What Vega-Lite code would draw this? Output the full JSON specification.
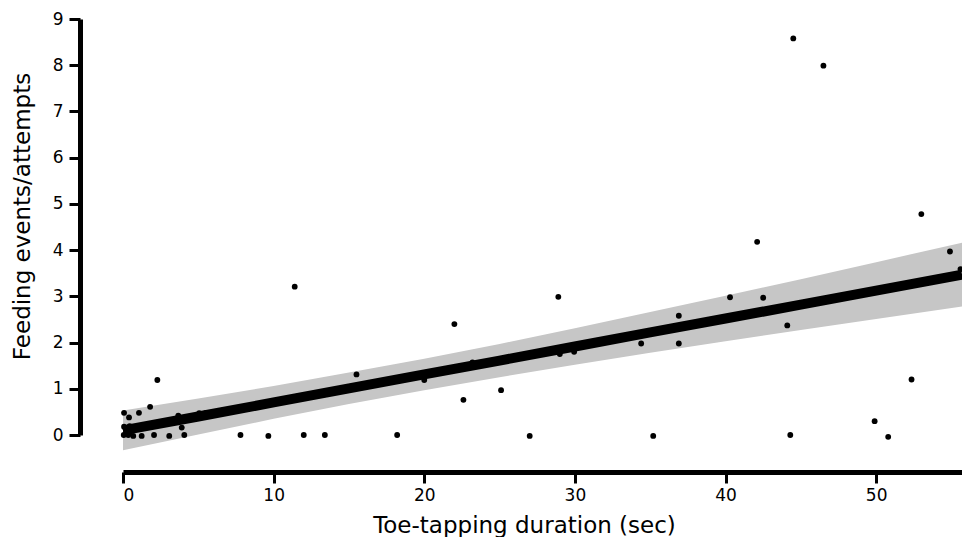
{
  "$schema": "https://vega.github.io/schema/vega-lite/v6.json",
  "width": 839,
  "height": 416,
  "autosize": "none",
  "padding": {"left": 123, "top": 19, "right": 0, "bottom": 102},
  "background": "white",
  "config": {
    "view": {"stroke": null},
    "font": "DejaVu Sans",
    "axis": {
      "grid": false,
      "domainColor": "black",
      "domainWidth": 5,
      "tickColor": "black",
      "tickWidth": 3,
      "tickSize": 11,
      "labelFont": "DejaVu Sans",
      "labelFontSize": 17,
      "labelColor": "black",
      "titleFont": "DejaVu Sans",
      "titleFontSize": 23,
      "titleFontWeight": "normal",
      "titleColor": "black"
    }
  },
  "datasets": {
    "fit": [
      {"x": 0, "fit": 0.10, "lo": -0.33, "hi": 0.53},
      {"x": 5, "fit": 0.40, "lo": 0.013, "hi": 0.79},
      {"x": 10, "fit": 0.705, "lo": 0.35, "hi": 1.06},
      {"x": 15, "fit": 1.01, "lo": 0.67, "hi": 1.35},
      {"x": 20, "fit": 1.31, "lo": 0.97, "hi": 1.65},
      {"x": 25, "fit": 1.61, "lo": 1.25, "hi": 1.97},
      {"x": 30, "fit": 1.915, "lo": 1.52, "hi": 2.31},
      {"x": 35, "fit": 2.22, "lo": 1.78, "hi": 2.66},
      {"x": 40, "fit": 2.52, "lo": 2.03, "hi": 3.01},
      {"x": 45, "fit": 2.82, "lo": 2.27, "hi": 3.37},
      {"x": 50, "fit": 3.125, "lo": 2.51, "hi": 3.74},
      {"x": 55.7, "fit": 3.47, "lo": 2.78, "hi": 4.16}
    ],
    "points": [
      {"x": 0.07, "y": 0.48}, {"x": 0.4, "y": 0.38}, {"x": 1.06, "y": 0.48}, {"x": 1.8, "y": 0.61},
      {"x": 2.28, "y": 1.19}, {"x": 0.07, "y": 0.18}, {"x": 0.44, "y": 0.19}, {"x": 0.05, "y": 0},
      {"x": 0.35, "y": 0}, {"x": 0.68, "y": -0.02}, {"x": 1.24, "y": -0.02}, {"x": 2.06, "y": 0},
      {"x": 3.07, "y": -0.02}, {"x": 3.67, "y": 0.42}, {"x": 3.9, "y": 0.16}, {"x": 4.07, "y": 0},
      {"x": 5.06, "y": 0.47}, {"x": 5.5, "y": 0.48}, {"x": 0.2, "y": 0.1}, {"x": 0.5, "y": 0.08},
      {"x": 3.8, "y": 0.3},
      {"x": 7.8, "y": 0}, {"x": 9.65, "y": -0.02}, {"x": 11.4, "y": 3.21}, {"x": 12.0, "y": 0},
      {"x": 13.4, "y": 0}, {"x": 15.5, "y": 1.31}, {"x": 18.2, "y": 0}, {"x": 20.0, "y": 1.19},
      {"x": 22.0, "y": 2.4}, {"x": 22.6, "y": 0.76}, {"x": 23.2, "y": 1.57}, {"x": 25.1, "y": 0.97},
      {"x": 27.0, "y": -0.02}, {"x": 28.9, "y": 2.99}, {"x": 29.0, "y": 1.75}, {"x": 29.95, "y": 1.8},
      {"x": 34.4, "y": 1.98}, {"x": 35.2, "y": -0.02}, {"x": 36.9, "y": 2.58}, {"x": 36.9, "y": 1.98},
      {"x": 40.3, "y": 2.98}, {"x": 42.1, "y": 4.18}, {"x": 42.5, "y": 2.97}, {"x": 44.1, "y": 2.37},
      {"x": 44.3, "y": 0}, {"x": 44.5, "y": 8.58}, {"x": 46.5, "y": 7.99}, {"x": 49.9, "y": 0.3},
      {"x": 50.8, "y": -0.04}, {"x": 52.35, "y": 1.2}, {"x": 53.0, "y": 4.78}, {"x": 54.9, "y": 3.97},
      {"x": 55.6, "y": 3.59}
    ]
  },
  "layer": [
    {
      "data": {"name": "fit"},
      "mark": {"type": "area", "color": "#c6c6c6", "opacity": 1},
      "encoding": {
        "x": {"field": "x", "type": "quantitative", "scale": {"domain": [0, 55.7], "nice": false, "zero": false},
              "axis": {"title": "Toe-tapping duration (sec)", "values": [0, 10, 20, 30, 40, 50], "offset": 37, "labelPadding": 4, "titlePadding": 11, "titleX": 401}},
        "y": {"field": "lo", "type": "quantitative", "scale": {"domain": [0, 9], "nice": false, "zero": false},
              "axis": {"title": "Feeding events/attempts", "values": [0, 1, 2, 3, 4, 5, 6, 7, 8, 9], "offset": 43, "labelPadding": 6, "titlePadding": 18, "titleY": 197}},
        "y2": {"field": "hi"}
      }
    },
    {
      "data": {"name": "fit"},
      "mark": {"type": "line", "color": "black", "strokeWidth": 10},
      "encoding": {
        "x": {"field": "x", "type": "quantitative", "scale": {"domain": [0, 55.7], "nice": false, "zero": false},
              "axis": {"title": "Toe-tapping duration (sec)", "values": [0, 10, 20, 30, 40, 50], "offset": 37, "labelPadding": 4, "titlePadding": 11, "titleX": 401}},
        "y": {"field": "fit", "type": "quantitative", "scale": {"domain": [0, 9], "nice": false, "zero": false},
              "axis": {"title": "Feeding events/attempts", "values": [0, 1, 2, 3, 4, 5, 6, 7, 8, 9], "offset": 43, "labelPadding": 6, "titlePadding": 18, "titleY": 197}}
      }
    },
    {
      "data": {"name": "points"},
      "mark": {"type": "circle", "color": "black", "opacity": 1, "size": 34},
      "encoding": {
        "x": {"field": "x", "type": "quantitative", "scale": {"domain": [0, 55.7], "nice": false, "zero": false},
              "axis": {"title": "Toe-tapping duration (sec)", "values": [0, 10, 20, 30, 40, 50], "offset": 37, "labelPadding": 4, "titlePadding": 11, "titleX": 401}},
        "y": {"field": "y", "type": "quantitative", "scale": {"domain": [0, 9], "nice": false, "zero": false},
              "axis": {"title": "Feeding events/attempts", "values": [0, 1, 2, 3, 4, 5, 6, 7, 8, 9], "offset": 43, "labelPadding": 6, "titlePadding": 18, "titleY": 197}}
      }
    }
  ]
}
